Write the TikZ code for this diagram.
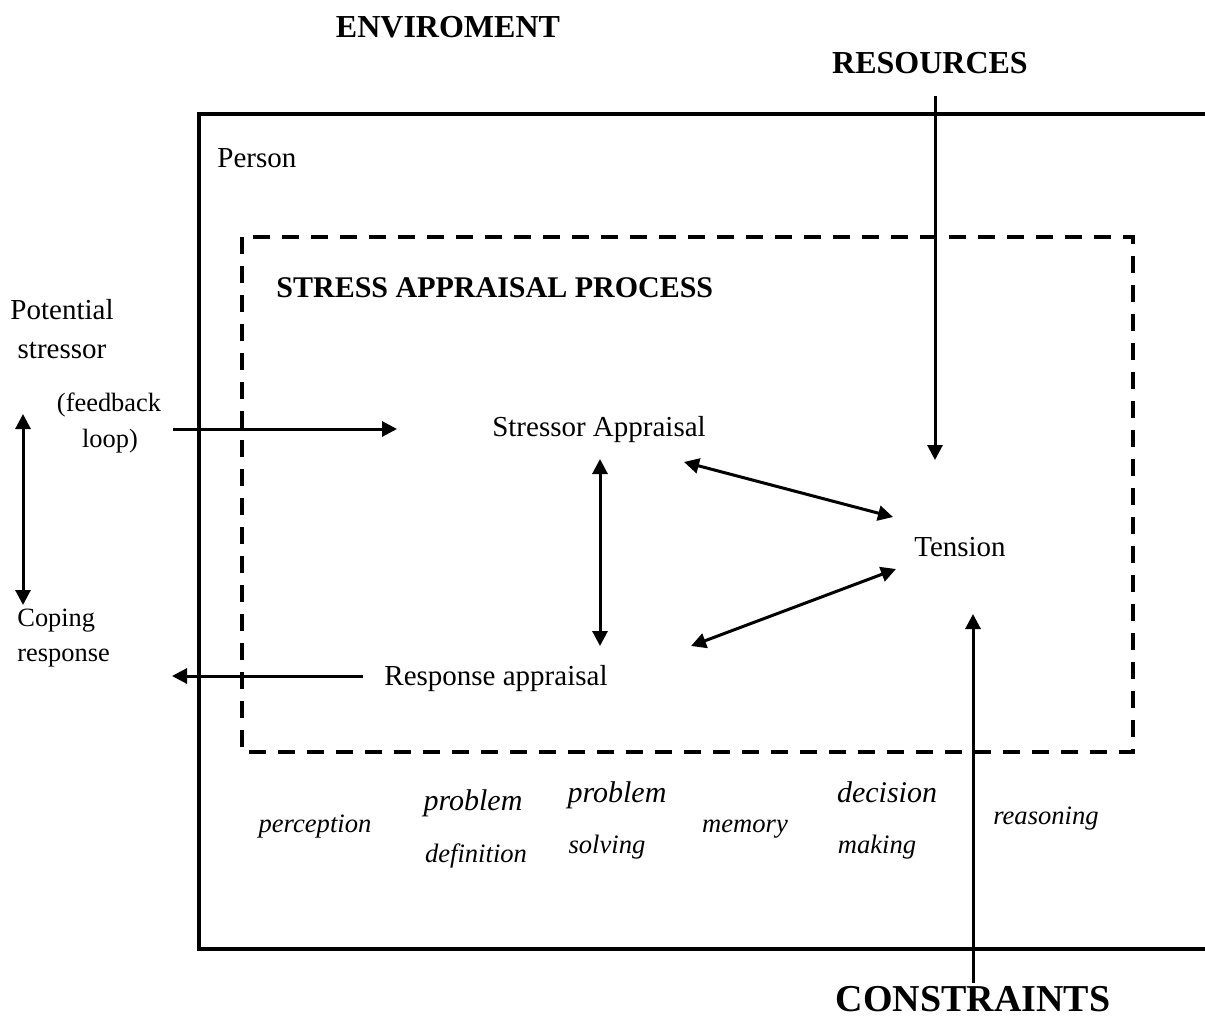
\documentclass[tikz,border=0pt]{standalone}
\usepackage{fontspec}
\setmainfont{Liberation Serif}
\usetikzlibrary{arrows.meta}
\begin{document}
\begin{tikzpicture}[x=0.5pt,y=-0.5pt,
  txt/.style={inner sep=0pt,anchor=base},
  txtw/.style={inner sep=0pt,anchor=base west},
  body/.style={font=\fontsize{14.5}{17}\selectfont},
  smalltxt/.style={font=\fontsize{13.2}{16}\selectfont},
  hd/.style={font=\bfseries\fontsize{16}{19}\selectfont},
  hdbig/.style={font=\bfseries\fontsize{19}{22}\selectfont},
  hdproc/.style={font=\bfseries\fontsize{15}{18}\selectfont},
  itsmall/.style={font=\itshape\fontsize{13.3}{16}\selectfont},
  itbig/.style={font=\itshape\fontsize{15}{18}\selectfont},
  arr/.style={line width=1.5pt,-{Triangle[length=7.5pt,width=7.5pt]}},
  darr/.style={line width=1.5pt,{Triangle[length=7.5pt,width=7.5pt]}-{Triangle[length=7.5pt,width=7.5pt]}},
  outerbox/.style={line width=1.8pt},
  dashbox/.style={line width=2pt,dash pattern=on 8.5pt off 6pt}
]
\useasboundingbox (0,0) rectangle (1205,1017);
\fill[white] (0,0) rectangle (1205,1017);

% outer person box (open to the right)
\draw[outerbox] (1220,114) -- (199,114) -- (199,949) -- (1220,949);
% dashed stress appraisal process box
\draw[dashbox] (242,237) rectangle (1133,752);

% texts
\node[txt,hd] (env) at (448,38) {ENVIROMENT};
\node[txt,hd] (res) at (930,73) {RESOURCES};
\node[txtw,body] (person) at (217,167) {Person};
\node[txtw,hdproc] (sap) at (276,297) {STRESS APPRAISAL PROCESS};
\node[txt,body] (pot1) at (62,319) {Potential};
\node[txt,body] (pot2) at (62,358) {stressor};
\node[txt,smalltxt] (fb1) at (109,411) {(feedback};
\node[txt,smalltxt] (fb2) at (110,447) {loop)};
\node[txtw,smalltxt] (cop1) at (17,626) {Coping};
\node[txtw,smalltxt] (cop2) at (17,661) {response};
\node[txt,body] (sa) at (599,436) {Stressor Appraisal};
\node[txt,body] (ten) at (960,556) {Tension};
\node[txt,body] (ra) at (496,685) {Response appraisal};
\node[txt,hdbig] (con) at (973,1011) {CONSTRAINTS};

\node[txt,itsmall] (perc) at (315,832) {perception};
\node[txt,itbig] (prob1) at (473,810) {problem};
\node[txt,itsmall] (defn) at (476,862) {definition};
\node[txt,itbig] (prob2) at (617,802) {problem};
\node[txt,itsmall] (solv) at (607,853) {solving};
\node[txt,itsmall] (mem) at (745,832) {memory};
\node[txt,itbig] (dec) at (887,802) {decision};
\node[txt,itsmall] (mak) at (877,853) {making};
\node[txt,itsmall] (reas) at (1046,824) {reasoning};

% connector end points
\coordinate (resA) at (935,96);
\coordinate (resB) at (935,460);
\coordinate (conA) at (973,983);
\coordinate (conB) at (973,614);
\coordinate (fbA) at (173,429);
\coordinate (fbB) at (397,429);
\coordinate (copA) at (363,676);
\coordinate (copB) at (172,676);
\coordinate (lvA) at (23,414);
\coordinate (lvB) at (23,605);
\coordinate (mvA) at (600,459);
\coordinate (mvB) at (600,646);
\coordinate (stA) at (684,462);
\coordinate (stB) at (893,517);
\coordinate (rtA) at (691,646);
\coordinate (rtB) at (896,569);

% connectors
\draw[arr] (resA) -- (resB);
\draw[arr] (conA) -- (conB);
\draw[arr] (fbA) -- (fbB);
\draw[arr] (copA) -- (copB);
\draw[darr] (lvA) -- (lvB);
\draw[darr] (mvA) -- (mvB);
\draw[darr] (stA) -- (stB);
\draw[darr] (rtA) -- (rtB);
\end{tikzpicture}
\end{document}
